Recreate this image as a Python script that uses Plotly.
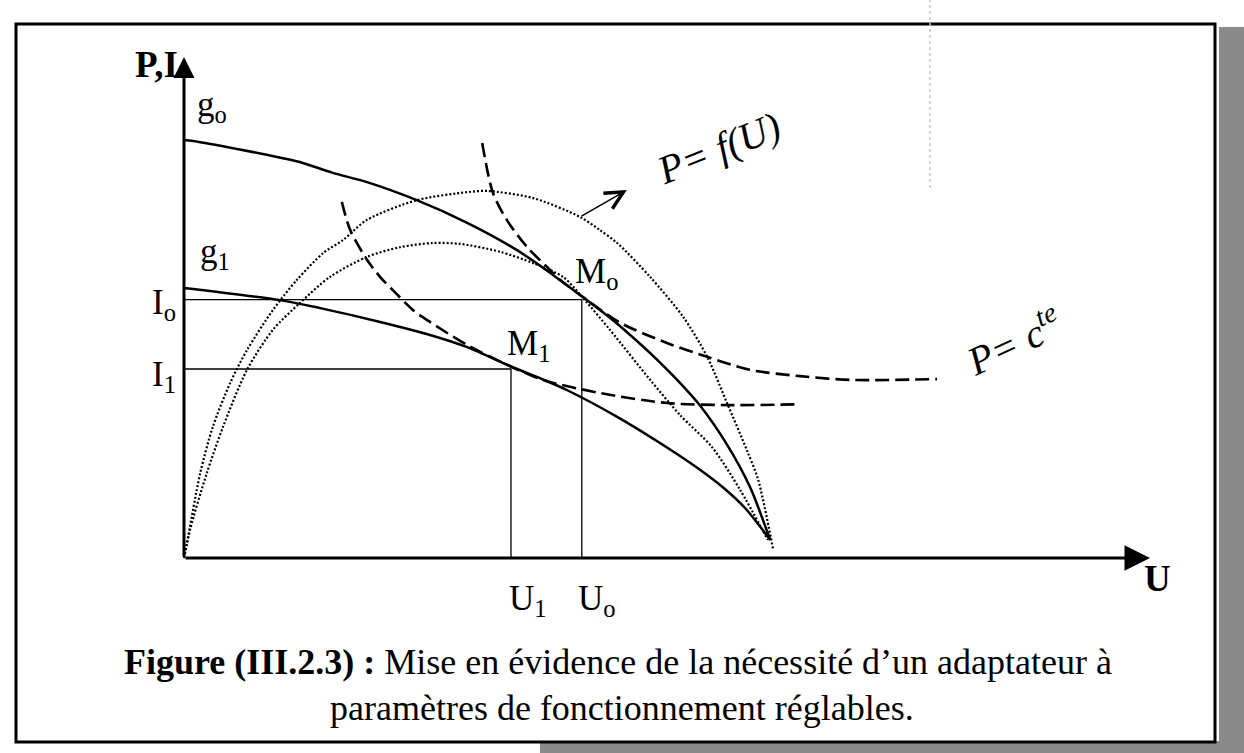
import plotly.graph_objects as go

# ---- characteristic curves (U on the horizontal axis, I or P vertically) ----
# I(U) characteristic for insolation g0
u_g0 = [0, 2.7, 13.8, 19.3, 24.8, 30.5, 38.8, 47.2, 55.5, 61.5, 66.3, 71.5, 76.0, 79.3, 82.2, 86.0, 90.5, 94.3, 97.7]
i_g0 = [99.5, 99.0, 96.0, 94.3, 91.7, 89.5, 85.2, 79.8, 73.3, 67.4, 62.3, 56.6, 51.0, 46.6, 42.4, 36.3, 27.0, 17.0, 4.3]

# I(U) characteristic for insolation g1
u_g1 = [0, 16.0, 22.7, 32.7, 41.0, 47.2, 54.5, 60.0, 63.8, 72.2, 80.5, 86.0, 90.0, 93.5, 97.7]
i_g1 = [64.3, 61.4, 59.5, 56.2, 53.1, 50.2, 45.6, 42.4, 40.0, 33.6, 26.3, 21.0, 16.6, 11.9, 4.3]

# P = f(U), outer and inner power curves
u_p0 = [0, 0.5, 2.7, 4.8, 7.7, 10.5, 14.8, 18.8, 23.2, 26.5, 30.5, 38.8, 47.2, 50.5, 58.2, 66.0, 69.3, 72.2, 77.7, 83.2, 87.2, 90.5, 93.8, 95.7, 98.2]
p_p0 = [0, 3.6, 20.2, 31.2, 41.7, 49.5, 59.0, 66.2, 72.6, 75.7, 80.5, 85.2, 87.1, 87.4, 85.7, 81.2, 78.1, 75.0, 66.9, 57.4, 47.9, 36.9, 25.7, 18.6, 1.9]

u_p1 = [0, 1.0, 3.8, 6.5, 10.5, 14.8, 19.3, 24.3, 30.5, 36.0, 41.5, 46.0, 52.7, 58.2, 63.2, 66.8, 71.0, 77.7, 82.7, 88.0, 92.7, 97.3]
p_p1 = [0, 6.7, 20.2, 31.2, 44.8, 54.3, 60.7, 66.9, 71.7, 74.0, 75.0, 74.8, 72.9, 70.2, 66.9, 61.4, 54.3, 42.4, 34.0, 26.4, 16.2, 4.3]

# P = cte hyperbolas through M0 and M1
u_c0 = [49.7, 51.5, 53.8, 57.2, 60.5, 62.7, 67.2, 72.7, 80.5, 87.2, 94.3, 102.7, 111.0, 125.5]
p_c0 = [98.8, 86.9, 80.5, 74.0, 69.3, 66.2, 61.4, 56.0, 51.2, 47.9, 44.8, 43.3, 42.4, 42.6]

u_c1 = [26.3, 27.7, 30.5, 32.7, 34.8, 38.2, 41.0, 47.2, 54.3, 59.8, 69.3, 80.5, 91.5, 102.5]
p_c1 = [84.8, 78.1, 71.0, 66.9, 63.8, 59.0, 56.2, 50.7, 45.7, 42.4, 39.3, 36.9, 36.4, 36.6]

# operating points
U0, I0 = 66.3, 61.5
U1, I1 = 54.5, 45.0

# axis arrow tips
U_TIP = 161.0
Y_TIP = 119.3

X_RANGE = [-30.667, 176.667]
Y_RANGE = [-46.43, 132.86]

SERIF = "Liberation Serif"

fig = go.Figure()


def curve(u, v, dash="solid", width=2.4, smooth=0.8):
    fig.add_trace(go.Scatter(
        x=u, y=v, mode="lines",
        line=dict(color="black", width=width, dash=dash,
                  shape="spline", smoothing=smooth),
        hoverinfo="skip", showlegend=False))


# projection lines of the operating points
fig.add_trace(go.Scatter(x=[0, U0, U0], y=[I0, I0, 0], mode="lines",
                         line=dict(color="black", width=1.3),
                         hoverinfo="skip", showlegend=False))
fig.add_trace(go.Scatter(x=[0, U1, U1], y=[I1, I1, 0], mode="lines",
                         line=dict(color="black", width=1.3),
                         hoverinfo="skip", showlegend=False))

curve(u_p0, p_p0, dash="2px,2px", width=2.2)
curve(u_p1, p_p1, dash="2px,2px", width=2.2)
curve(u_c0, p_c0, dash="14px,6px", width=2.6)
curve(u_c1, p_c1, dash="14px,6px", width=2.6)
curve(u_g0, i_g0, width=2.5)
curve(u_g1, i_g1, width=2.5)

annotations = []


def label(text, u, v, size=35, xanchor="center", bold=False):
    annotations.append(dict(
        x=u, y=v, xref="x", yref="y", text=(f"<b>{text}</b>" if bold else text),
        showarrow=False, xanchor=xanchor, yanchor="middle",
        font=dict(family=SERIF, size=size, color="black")))


label("P,I", -0.6, 117.6, size=37, xanchor="right", bold=True)
label("g<sub>o</sub>", 1.8, 107.5, xanchor="left")
label("g<sub>1</sub>", 2.3, 72.6, xanchor="left")
label("I<sub>o</sub>", -1.0, 60.4, xanchor="right")
label("I<sub>1</sub>", -1.0, 43.1, xanchor="right")
label("M<sub>o</sub>", 64.8, 67.8, xanchor="left")
label("M<sub>1</sub>", 53.5, 50.5, xanchor="left")
label("U<sub>1</sub>", 57.3, -10.0)
label("U<sub>o</sub>", 68.8, -10.0)
label("U", 162.3, -4.8, size=37, bold=True)


def arrow(x, y, ax, ay, head, width, size):
    annotations.append(dict(x=x, y=y, ax=ax, ay=ay, xref="x", yref="y",
                            axref="x", ayref="y", text="", showarrow=True,
                            arrowhead=head, arrowwidth=width, arrowsize=size,
                            arrowcolor="black", standoff=0,
                            font=dict(family=SERIF, size=10, color="black")))


# axes with arrow heads
arrow(0, Y_TIP, 0, 0, 2, 3, 1.4)
arrow(U_TIP, 0, 0, 0, 2, 3, 1.7)

# hand-written notes
arrow(73.8, 87.6, 66.0, 81.2, 5, 1.6, 2.2)
annotations.append(dict(x=89.0, y=97.6, xref="x", yref="y", text="P= f(U)",
                        showarrow=False, textangle=-22,
                        font=dict(family=SERIF, size=40, color="black", style="italic")))
annotations.append(dict(x=138.2, y=51.9, xref="x", yref="y", text="P= c<sup>te</sup>",
                        showarrow=False, textangle=-25,
                        font=dict(family=SERIF, size=40, color="black", style="italic")))

# caption
annotations.append(dict(x=0.4968, y=0.1208, xref="paper", yref="paper",
                        text="<b>Figure (III.2.3) :</b> Mise en évidence de la nécessité d’un adaptateur à",
                        showarrow=False, xanchor="center", yanchor="middle",
                        font=dict(family=SERIF, size=36, color="black")))
annotations.append(dict(x=0.5, y=0.0598, xref="paper", yref="paper",
                        text="paramètres de fonctionnement réglables.",
                        showarrow=False, xanchor="center", yanchor="middle",
                        font=dict(family=SERIF, size=36, color="black")))

W, H = 1244, 753
shapes = [
    # grey page edge on the right and bottom
    dict(type="rect", xref="paper", yref="paper", x0=1219 / W, x1=1.0,
         y0=0, y1=1 - 27 / H, fillcolor="#8a8a8a", line=dict(width=0), layer="below"),
    dict(type="rect", xref="paper", yref="paper", x0=540 / W, x1=1.0,
         y0=0, y1=1 - 741 / H, fillcolor="#8a8a8a", line=dict(width=0), layer="below"),
    # figure frame
    dict(type="rect", xref="paper", yref="paper", x0=16 / W, x1=1215 / W,
         y0=1 - 742 / H, y1=1 - 24 / H, line=dict(color="black", width=3),
         fillcolor="rgba(0,0,0,0)"),
    # faint fold mark near the top
    dict(type="line", xref="paper", yref="paper", x0=930 / W, x1=930 / W,
         y0=1 - 188 / H, y1=1.0, line=dict(color="#c8c8c8", width=1.5, dash="dot")),
]

fig.update_layout(
    width=W, height=H, autosize=False,
    margin=dict(l=0, r=0, t=0, b=0, pad=0),
    paper_bgcolor="white", plot_bgcolor="white",
    font=dict(family=SERIF, size=35, color="black"),
    xaxis=dict(range=X_RANGE, visible=False, fixedrange=True),
    yaxis=dict(range=Y_RANGE, visible=False, fixedrange=True),
    annotations=annotations, shapes=shapes, showlegend=False,
)

fig.write_html("out.html", config={"displayModeBar": False})
